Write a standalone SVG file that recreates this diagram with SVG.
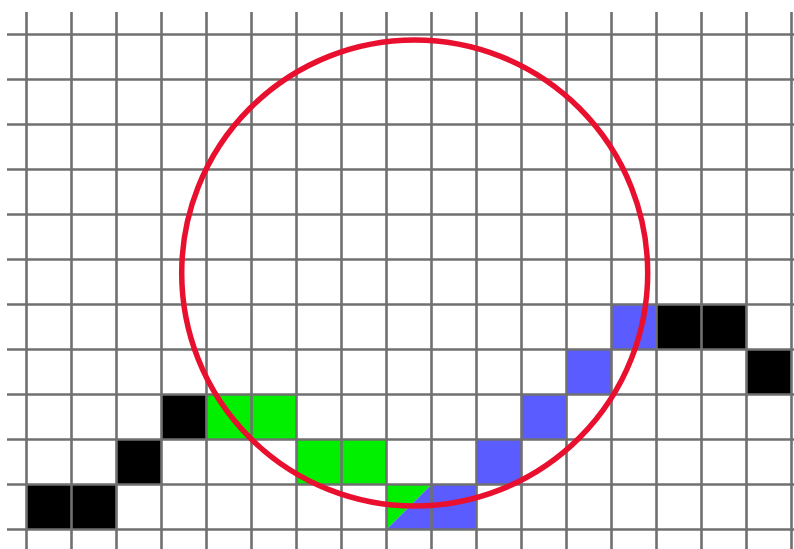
<svg xmlns="http://www.w3.org/2000/svg" width="794" height="549" viewBox="0 0 794 549">
<style>
.g{stroke:#707070;stroke-width:2.6;fill:none}
.k{fill:#000}
.gr{fill:#00f000}
.b{fill:#5a5cff}
</style>
<rect width="794" height="549" fill="#fff"/>
<g id="cells">
<rect class="k" x="26.5" y="484.5" width="90" height="45"/>
<rect class="k" x="116.5" y="439.5" width="45" height="45"/>
<rect class="k" x="161.5" y="394.5" width="45" height="45"/>
<rect class="gr" x="206.5" y="394.5" width="90" height="45"/>
<rect class="gr" x="296.5" y="439.5" width="90" height="45"/>
<polygon class="gr" points="386.5,484.5 431.5,484.5 386.5,529.5"/>
<polygon class="b" points="431.5,484.5 431.5,529.5 386.5,529.5"/>
<rect class="b" x="431.5" y="484.5" width="45" height="45"/>
<rect class="b" x="476.5" y="439.5" width="45" height="45"/>
<rect class="b" x="521.5" y="394.5" width="45" height="45"/>
<rect class="b" x="566.5" y="349.5" width="45" height="45"/>
<rect class="b" x="611.5" y="304.5" width="45" height="45"/>
<rect class="k" x="656.5" y="304.5" width="90" height="45"/>
<rect class="k" x="746.5" y="349.5" width="45" height="45"/>
</g>
<g id="grid" class="g">
<path d="M7 34.5H794M7 79.5H794M7 124.5H794M7 169.5H794M7 214.5H794M7 259.5H794M7 304.5H794M7 349.5H794M7 394.5H794M7 439.5H794M7 484.5H794M7 529.5H794"/>
<path d="M26.5 12V549M71.5 12V549M116.5 12V549M161.5 12V549M206.5 12V549M251.5 12V549M296.5 12V549M341.5 12V549M386.5 12V549M431.5 12V549M476.5 12V549M521.5 12V549M566.5 12V549M611.5 12V549M656.5 12V549M701.5 12V549M746.5 12V549M791.5 12V549"/>
</g>
<g id="circle">
<circle cx="414.7" cy="273" r="233" fill="none" stroke="#e8102e" stroke-width="5.5"/>
</g>
</svg>
